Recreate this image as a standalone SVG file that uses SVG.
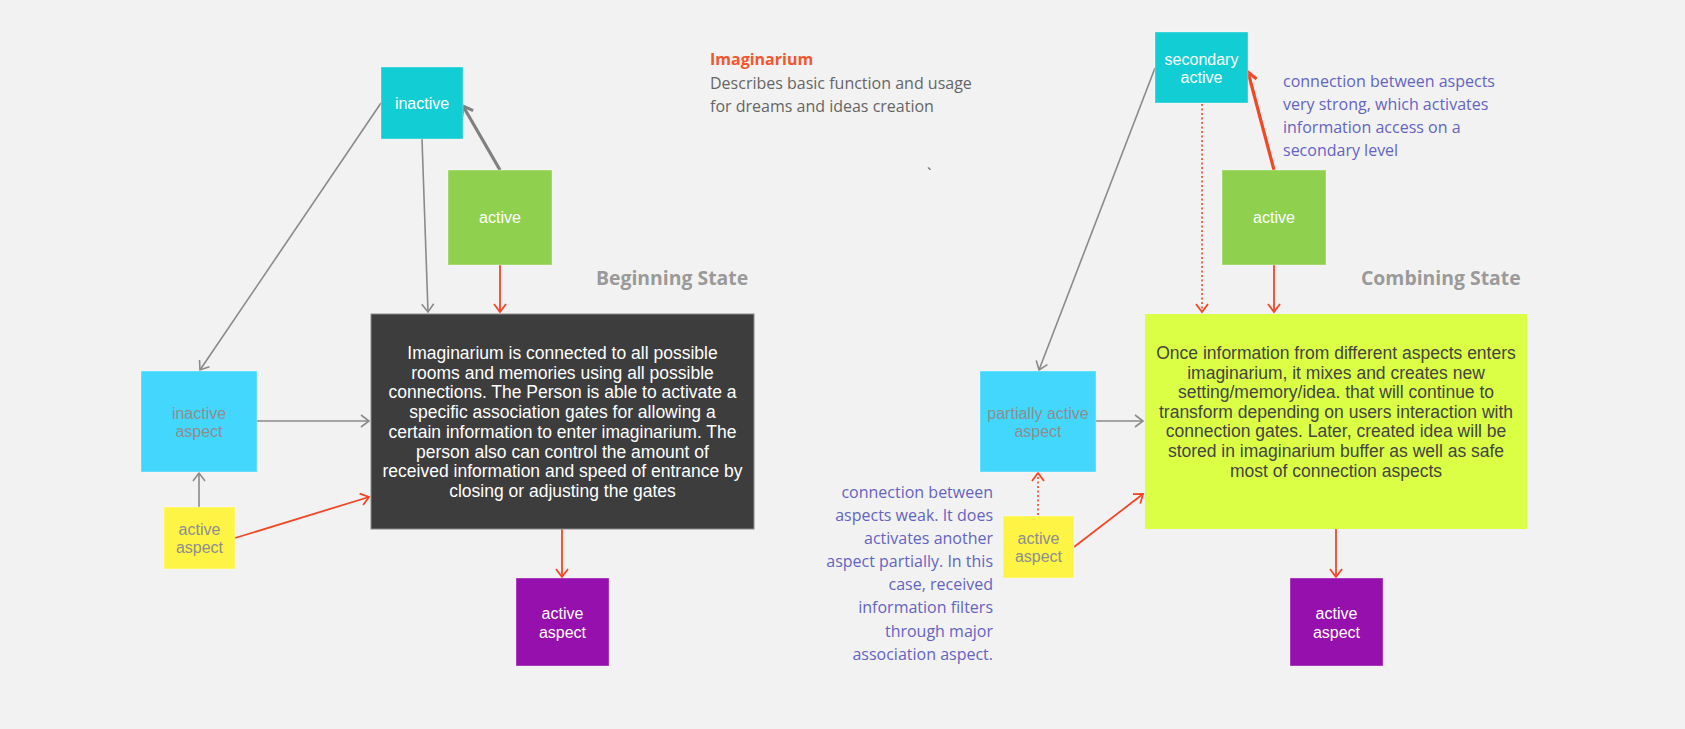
<svg xmlns="http://www.w3.org/2000/svg" width="1685" height="729" viewBox="0 0 1685 729">
<style>
.box{stroke:rgba(255,255,255,0.35);stroke-width:1}
.lbl{font-family:"Liberation Sans",Arial,sans-serif;font-size:16px;text-anchor:middle}
.w{fill:#ffffff}
.g{fill:#8e8e8e}
.body{font-family:"Liberation Sans",Arial,sans-serif;font-size:17.5px;text-anchor:middle}
.os{font-family:"Open Sans","Noto Sans",sans-serif;font-size:16px}
.head{font-family:"Open Sans","Noto Sans",sans-serif;font-size:19.4px;font-weight:bold;fill:#9a9a9a}
.note{font-family:"Open Sans","Noto Sans",sans-serif;font-size:16px;fill:#6464c0}
.gl{fill:none;stroke:#8a8a8a;stroke-width:1.6;marker-end:url(#ag)}
.glt{fill:none;stroke:#808080;stroke-width:3.2;marker-end:url(#agt)}
.rl{fill:none;stroke:#f24726;stroke-width:1.8;marker-end:url(#ar)}
.rlt{fill:none;stroke:#f24726;stroke-width:3.2;marker-end:url(#art)}
.rd{fill:none;stroke:#f24726;stroke-width:1.6;stroke-dasharray:2 2.5;marker-end:url(#ar)}
</style>
<defs>
<marker id="ag" markerUnits="userSpaceOnUse" viewBox="-10 -8 12 16" refX="0" refY="0" markerWidth="12" markerHeight="16" orient="auto"><path d="M-8,-6 L0,0 L-8,6" fill="none" stroke="#8a8a8a" stroke-width="1.6"/></marker>
<marker id="agt" markerUnits="userSpaceOnUse" viewBox="-12 -9 14 18" refX="0" refY="0" markerWidth="14" markerHeight="18" orient="auto"><path d="M-9,-6.5 L0,0 L-9,6.5" fill="none" stroke="#808080" stroke-width="3"/></marker>
<marker id="ar" markerUnits="userSpaceOnUse" viewBox="-10 -8 12 16" refX="0" refY="0" markerWidth="12" markerHeight="16" orient="auto"><path d="M-8,-6 L0,0 L-8,6" fill="none" stroke="#f24726" stroke-width="1.8"/></marker>
<marker id="art" markerUnits="userSpaceOnUse" viewBox="-12 -9 14 18" refX="0" refY="0" markerWidth="14" markerHeight="18" orient="auto"><path d="M-9,-6.5 L0,0 L-9,6.5" fill="none" stroke="#f24726" stroke-width="3"/></marker>
</defs>
<rect x="0" y="0" width="1685" height="729" fill="#f2f2f2"/>

<g id="connectors">
<path class="gl" d="M381,103 L200,370"/>
<path class="gl" d="M422,139 L428,312"/>
<path class="glt" d="M500,170 L463,106"/>
<path class="rl" d="M500,265 L500,312"/>
<path class="gl" d="M257,421 L369,421"/>
<path class="gl" d="M199,507 L199,473"/>
<path class="rl" d="M235,538 L369,497"/>
<path class="rl" d="M562,529 L562,577"/>

<path class="gl" d="M1155,68 L1039,370"/>
<path class="rd" d="M1202,104 L1202,312"/>
<path class="rlt" d="M1274,170 L1248,72"/>
<path class="rl" d="M1274,265 L1274,312"/>
<path class="gl" d="M1096,421 L1143,421"/>
<path class="rd" d="M1038,515 L1038,473"/>
<path class="rl" d="M1074,547 L1143,494"/>
<path class="rl" d="M1336,529 L1336,577"/>
</g>

<g id="title">
<text class="os" x="710" y="65" font-weight="bold" fill="#f4552f">Imaginarium</text>
<text class="os" x="710" y="89" fill="#666666">Describes basic function and usage</text>
<text class="os" x="710" y="111.5" fill="#666666">for dreams and ideas creation</text>
<text class="os" x="927" y="180" fill="#555555" font-size="12px">`</text>
</g>

<text id="beginning-state" class="head" x="596" y="285">Beginning State</text>
<text id="combining-state" class="head" x="1361" y="285">Combining State</text>

<g id="inactive">
<rect class="box" x="381" y="67" width="82" height="72" fill="#12cdd4"/>
<text class="lbl w" x="422" y="109">inactive</text>
</g>
<g id="active-left">
<rect class="box" x="448" y="170" width="104" height="95" fill="#8fd14f"/>
<text class="lbl w" x="500" y="223">active</text>
</g>
<g id="imaginarium-box">
<rect x="371" y="314" width="383" height="215" fill="#3d3d3d" stroke="#8a8a8a" stroke-width="1"/>
<text class="body w" x="562.5" y="359">Imaginarium is connected to all possible</text>
<text class="body w" x="562.5" y="378.7">rooms and memories using all possible</text>
<text class="body w" x="562.5" y="398.4">connections. The Person is able to activate a</text>
<text class="body w" x="562.5" y="418.1">specific association gates for allowing a</text>
<text class="body w" x="562.5" y="437.8">certain information to enter imaginarium. The</text>
<text class="body w" x="562.5" y="457.5">person also can control the amount of</text>
<text class="body w" x="562.5" y="477.2">received information and speed of entrance by</text>
<text class="body w" x="562.5" y="496.9">closing or adjusting the gates</text>
</g>
<g id="inactive-aspect">
<rect class="box" x="141" y="371" width="116" height="101" fill="#44d7fe"/>
<text class="lbl g" x="199" y="418.5">inactive</text>
<text class="lbl g" x="199" y="437">aspect</text>
</g>
<g id="active-aspect-yellow-left">
<rect class="box" x="164" y="507" width="71" height="62" fill="#fef445"/>
<text class="lbl g" x="199.5" y="535">active</text>
<text class="lbl g" x="199.5" y="553">aspect</text>
</g>
<g id="active-aspect-purple-left">
<rect class="box" x="516" y="578" width="93" height="88" fill="#9510ac"/>
<text class="lbl w" x="562.5" y="619">active</text>
<text class="lbl w" x="562.5" y="637.5">aspect</text>
</g>

<g id="secondary-active">
<rect class="box" x="1155" y="32" width="93" height="71" fill="#12cdd4"/>
<text class="lbl w" x="1201.5" y="64.5">secondary</text>
<text class="lbl w" x="1201.5" y="82.5">active</text>
</g>
<g id="active-right">
<rect class="box" x="1222" y="170" width="104" height="95" fill="#8fd14f"/>
<text class="lbl w" x="1274" y="223">active</text>
</g>
<g id="combining-box">
<rect x="1145" y="314" width="382" height="215" fill="#dbff45"/>
<text class="body" fill="#444444" x="1336" y="359">Once information from different aspects enters</text>
<text class="body" fill="#444444" x="1336" y="378.6">imaginarium, it mixes and creates new</text>
<text class="body" fill="#444444" x="1336" y="398.2">setting/memory/idea. that will continue to</text>
<text class="body" fill="#444444" x="1336" y="417.8">transform depending on users interaction with</text>
<text class="body" fill="#444444" x="1336" y="437.4">connection gates. Later, created idea will be</text>
<text class="body" fill="#444444" x="1336" y="457">stored in imaginarium buffer as well as safe</text>
<text class="body" fill="#444444" x="1336" y="476.6">most of connection aspects</text>
</g>
<g id="partially-active-aspect">
<rect class="box" x="980" y="371" width="116" height="101" fill="#44d7fe"/>
<text class="lbl g" x="1038" y="418.5">partially active</text>
<text class="lbl g" x="1038" y="437">aspect</text>
</g>
<g id="active-aspect-yellow-right">
<rect class="box" x="1003" y="516" width="71" height="62" fill="#fef445"/>
<text class="lbl g" x="1038.5" y="544">active</text>
<text class="lbl g" x="1038.5" y="562">aspect</text>
</g>
<g id="active-aspect-purple-right">
<rect class="box" x="1290" y="578" width="93" height="88" fill="#9510ac"/>
<text class="lbl w" x="1336.5" y="619">active</text>
<text class="lbl w" x="1336.5" y="637.5">aspect</text>
</g>

<g id="note-strong">
<text class="note" x="1283" y="87">connection between aspects</text>
<text class="note" x="1283" y="110">very strong, which activates</text>
<text class="note" x="1283" y="133">information access on a</text>
<text class="note" x="1283" y="156">secondary level</text>
</g>
<g id="note-weak" text-anchor="end">
<text class="note" x="993" y="498">connection between</text>
<text class="note" x="993" y="521">aspects weak. It does</text>
<text class="note" x="993" y="544">activates another</text>
<text class="note" x="993" y="567">aspect partially. In this</text>
<text class="note" x="993" y="590">case, received</text>
<text class="note" x="993" y="613">information filters</text>
<text class="note" x="993" y="636.5">through major</text>
<text class="note" x="993" y="659.5">association aspect.</text>
</g>
</svg>
